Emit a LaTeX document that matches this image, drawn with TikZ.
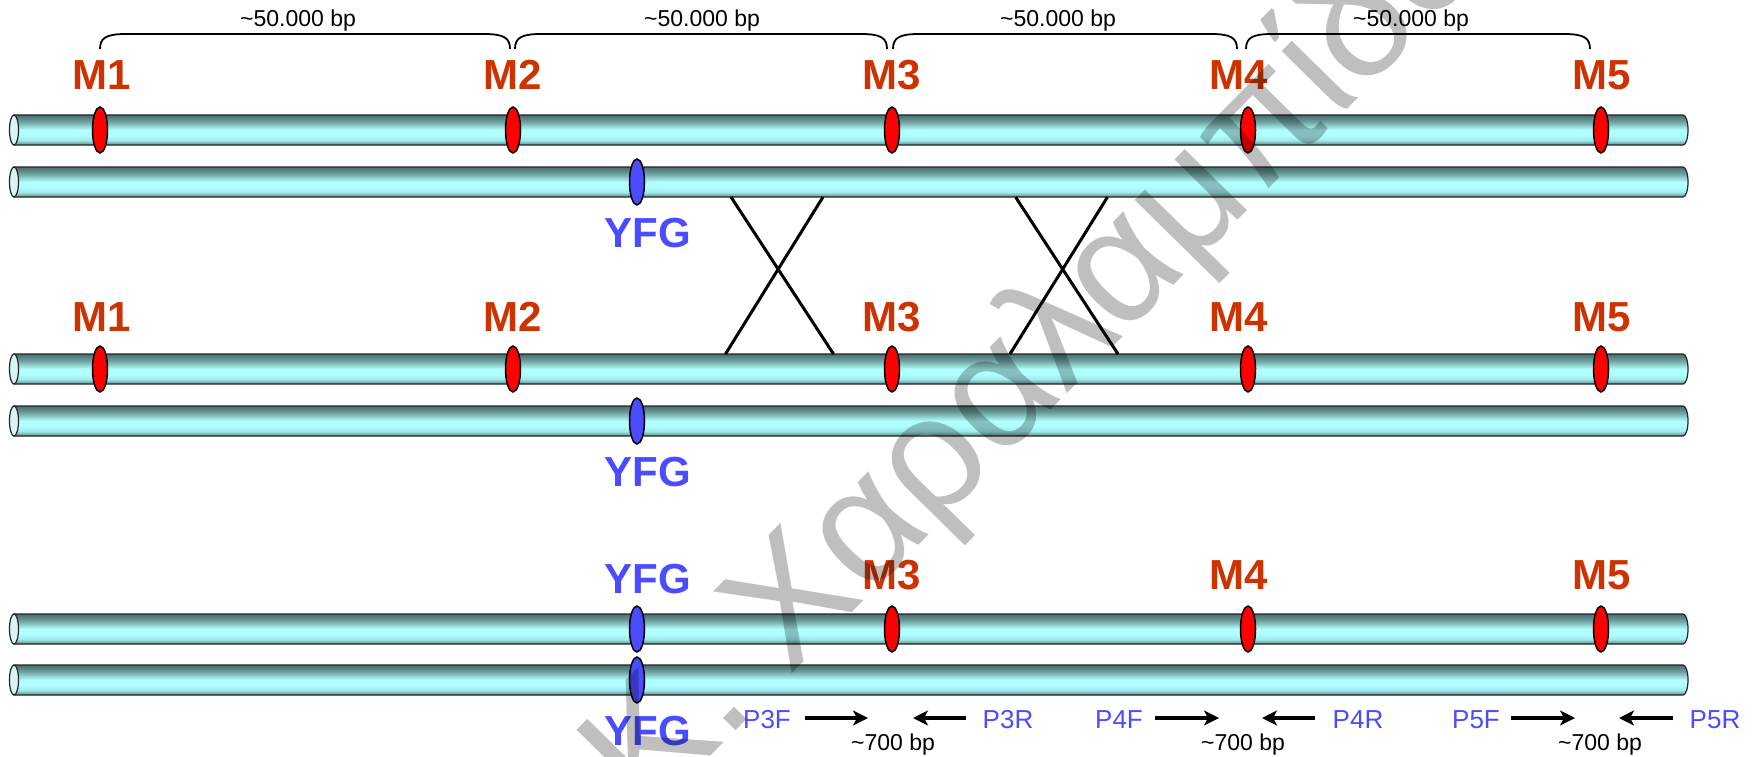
\documentclass[tikz,border=0pt]{standalone}
\usepackage{fontspec}
\setmainfont{Liberation Sans}
\usetikzlibrary{shapes.geometric,arrows.meta}
\definecolor{mred}{RGB}{204,51,0}
\definecolor{yblue}{RGB}{75,75,255}
\definecolor{cylT}{RGB}{72,108,108}
\definecolor{cylU}{RGB}{110,160,160}
\definecolor{cylL}{RGB}{178,255,255}
\definecolor{cylL2}{RGB}{160,235,235}
\definecolor{cylB}{RGB}{95,135,135}
\definecolor{capcol}{RGB}{215,245,245}
\pgfdeclareverticalshading{cylshade}{100bp}{color(0bp)=(cylB); color(25bp)=(cylB); color(33bp)=(cylL2); color(42bp)=(cylL); color(50bp)=(cylL); color(64bp)=(cylU); color(75bp)=(cylT); color(100bp)=(cylT)}
\newcommand\chromo[1]{%
  \path[shading=cylshade, draw=black!85, line width=1.2pt]
    (14,#1-15) -- (1683,#1-15) arc[start angle=-90, end angle=90, x radius=5, y radius=15]
    -- (14,#1+15) -- cycle;
  \draw[fill=capcol, draw=black!85, line width=1.2pt] (14,#1) ellipse[x radius=4.5, y radius=15];
}
\tikzset{
  marker/.style={ellipse, draw=black, line width=1.5pt, fill=#1, minimum width=15pt, minimum height=46pt, inner sep=0pt},
  mlab/.style={text=mred, font=\fontsize{42}{42}\selectfont\bfseries, anchor=base, inner sep=0pt},
  ylab/.style={text=yblue, font=\fontsize{42}{42}\selectfont\bfseries, anchor=base, inner sep=0pt},
  bplab/.style={text=black, font=\fontsize{23}{23}\selectfont, anchor=base, inner sep=0pt},
  plab/.style={text=yblue, font=\fontsize{26}{26}\selectfont, anchor=base, inner sep=0pt},
  brk/.style={draw=black, line width=1.8pt},
  xover/.style={draw=black, line width=3pt},
  prim/.style={draw=black, line width=3.5pt, -{Stealth[length=15pt, width=15pt, inset=4pt]}},
}
\begin{document}
\begin{tikzpicture}[x=1pt, y=-1pt]
\useasboundingbox (0,0) rectangle (1758,757);
\fill[white] (0,0) rectangle (1758,757);

% chromosomes
\chromo{130}
\chromo{182}
\chromo{369}
\chromo{421}
\chromo{629}
\chromo{680}

% markers row 1
\node[marker=red] (r1m1) at (100,130) {};
\node[marker=red] (r1m2) at (513,130) {};
\node[marker=red] (r1m3) at (892,130) {};
\node[marker=red] (r1m4) at (1248,130) {};
\node[marker=red] (r1m5) at (1601,130) {};
\node[marker=yblue] (r2y) at (637,182) {};
% row 3/4
\node[marker=red] (r3m1) at (100,369) {};
\node[marker=red] (r3m2) at (513,369) {};
\node[marker=red] (r3m3) at (892,369) {};
\node[marker=red] (r3m4) at (1248,369) {};
\node[marker=red] (r3m5) at (1601,369) {};
\node[marker=yblue] (r4y) at (637,421) {};
% row 5/6
\node[marker=yblue] (r5y) at (637,629) {};
\node[marker=red] (r5m3) at (892,629) {};
\node[marker=red] (r5m4) at (1248,629) {};
\node[marker=red] (r5m5) at (1601,629) {};
\node[marker=yblue] (r6y) at (637,680) {};

% labels
\node[mlab] (l1m1) at (102,90) {M1};
\node[mlab] (l1m2) at (513,90) {M2};
\node[mlab] (l1m3) at (892,90) {M3};
\node[mlab] (l1m4) at (1239,90) {M4};
\node[mlab] (l1m5) at (1602,90) {M5};
\node[ylab] (l2y) at (648,247) {YFG};
\node[mlab] (l3m1) at (102,331) {M1};
\node[mlab] (l3m2) at (513,331) {M2};
\node[mlab] (l3m3) at (892,331) {M3};
\node[mlab] (l3m4) at (1239,331) {M4};
\node[mlab] (l3m5) at (1602,331) {M5};
\node[ylab] (l4y) at (648,486) {YFG};
\node[ylab] (l5y) at (648,593) {YFG};
\node[mlab] (l5m3) at (892,589) {M3};
\node[mlab] (l5m4) at (1239,589) {M4};
\node[mlab] (l5m5) at (1602,589) {M5};
\node[ylab] (l6y) at (648,745) {YFG};

% brackets
\foreach \a/\b/\c/\n in {100/510/298/1, 515/887/702/2, 893/1237/1058/3, 1246/1590/1411/4}{
  \coordinate (bs\n) at (\a,49);
  \coordinate (be\n) at (\b,49);
  \draw[brk] (bs\n) .. controls (\a,38) and (\a+6,34) .. (\a+26,34) -- (\b-26,34)
     .. controls (\b-6,34) and (\b,38) .. (be\n);
  \node[bplab] (bl\n) at (\c,27) {\textasciitilde50.000 bp};
}

% crossovers
\coordinate (x1a) at (731,197); \coordinate (x1b) at (833.5,354);
\coordinate (x1c) at (823,197); \coordinate (x1d) at (725.5,354);
\coordinate (x2a) at (1015.5,197); \coordinate (x2b) at (1118,354);
\coordinate (x2c) at (1107.5,197); \coordinate (x2d) at (1010,354);
\draw[xover] (x1a) -- (x1b);
\draw[xover] (x1c) -- (x1d);
\draw[xover] (x2a) -- (x2b);
\draw[xover] (x2c) -- (x2d);

% primers
\node[plab] (p3f) at (767,728) {P3F};
\node[plab] (p3r) at (1008,728) {P3R};
\node[plab] (p4f) at (1119,728) {P4F};
\node[plab] (p4r) at (1358,728) {P4R};
\node[plab] (p5f) at (1476,728) {P5F};
\node[plab] (p5r) at (1715,728) {P5R};
\coordinate (a3s) at (805,718); \coordinate (a3e) at (868,718);
\coordinate (b3s) at (966,718); \coordinate (b3e) at (913,718);
\coordinate (a4s) at (1155,718); \coordinate (a4e) at (1219,718);
\coordinate (b4s) at (1315,718); \coordinate (b4e) at (1262,718);
\coordinate (a5s) at (1511,718); \coordinate (a5e) at (1575,718);
\coordinate (b5s) at (1673,718); \coordinate (b5e) at (1619,718);
\draw[prim] (a3s) -- (a3e);
\draw[prim] (b3s) -- (b3e);
\draw[prim] (a4s) -- (a4e);
\draw[prim] (b4s) -- (b4e);
\draw[prim] (a5s) -- (a5e);
\draw[prim] (b5s) -- (b5e);
\node[bplab] (d3) at (893,750) {\textasciitilde700 bp};
\node[bplab] (d4) at (1243,750) {\textasciitilde700 bp};
\node[bplab] (d5) at (1600,750) {\textasciitilde700 bp};

% watermark
\begin{scope}
\clip (0,0) rectangle (1758,757);
\node[rotate=45.5, anchor=base west, inner sep=0pt, text=black, text opacity=0.25,
      font=\fontsize{165}{165}\selectfont] (wm) at (648.5,820) {Κ. Χαραλαμπίδου};
\end{scope}
\end{tikzpicture}
\end{document}
